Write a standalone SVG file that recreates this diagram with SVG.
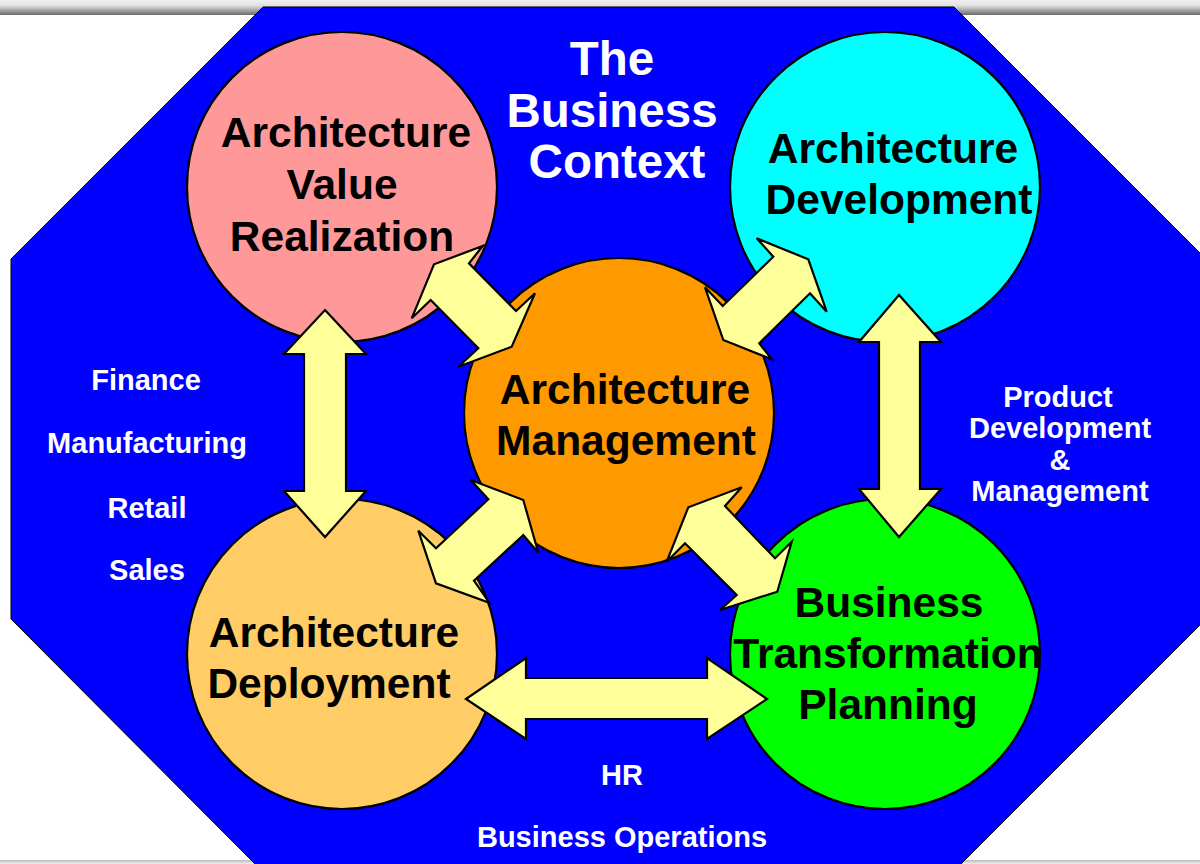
<svg xmlns="http://www.w3.org/2000/svg" width="1200" height="864" viewBox="0 0 1200 864">
<defs>
<linearGradient id="strip" x1="0" y1="0" x2="0" y2="1">
<stop offset="0" stop-color="#f0f0f0"/>
<stop offset="0.35" stop-color="#e2e2e2"/>
<stop offset="0.5" stop-color="#c8c8c8"/>
<stop offset="1" stop-color="#6a6a6a"/>
</linearGradient>
<linearGradient id="stripb" x1="0" y1="0" x2="0" y2="1">
<stop offset="0" stop-color="#bbbbbb"/>
<stop offset="1" stop-color="#eeeeee"/>
</linearGradient>
</defs>
<style>
.c{stroke:#000;stroke-width:2.2}
.lbl{font-family:"Liberation Sans",Arial,Helvetica,sans-serif;font-weight:bold;font-size:42.5px;fill:#000;text-anchor:middle}
.ttl{font-family:"Liberation Sans",Arial,Helvetica,sans-serif;font-weight:bold;font-size:47.5px;fill:#fff;text-anchor:middle}
.side{font-family:"Liberation Sans",Arial,Helvetica,sans-serif;font-weight:bold;font-size:29px;fill:#fff;text-anchor:middle}
.arr{fill:#ffff99;stroke:#000;stroke-width:2.2;stroke-linejoin:miter}
</style>
<rect x="0" y="0" width="1200" height="864" fill="#fff"/>
<rect x="0" y="0" width="1200" height="15" fill="url(#strip)"/>
<rect x="0" y="860" width="1200" height="4" fill="url(#stripb)"/>
<polygon id="context" points="263,7 954,7 1207,260 1207,618 958,867 258,867 11,619 11,259" fill="#0000ff" stroke="#000" stroke-width="1"/>
<g id="title">
<text class="ttl" x="612" y="75">The</text>
<text class="ttl" x="612" y="127">Business</text>
<text class="ttl" x="617" y="178">Context</text>
</g>
<g id="value-realization">
<circle class="c" cx="342" cy="187" r="155" fill="#ff9999"/>
<text class="lbl" x="346" y="147">Architecture</text>
<text class="lbl" x="342" y="199">Value</text>
<text class="lbl" x="342" y="251">Realization</text>
</g>
<g id="development">
<circle class="c" cx="885" cy="187" r="155" fill="#00ffff"/>
<text class="lbl" x="893" y="163">Architecture</text>
<text class="lbl" x="899" y="214">Development</text>
</g>
<g id="management">
<circle class="c" cx="619" cy="413" r="155" fill="#ff9900"/>
<text class="lbl" x="625" y="404">Architecture</text>
<text class="lbl" x="626" y="455">Management</text>
</g>
<g id="deployment">
<circle class="c" cx="342" cy="654" r="155" fill="#ffcc66"/>
<text class="lbl" x="334" y="647">Architecture</text>
<text class="lbl" x="329" y="698">Deployment</text>
</g>
<g id="transformation">
<circle class="c" cx="885" cy="654" r="155" fill="#00ff00"/>
<text class="lbl" x="889" y="617">Business</text>
<text class="lbl" x="888" y="668">Transformation</text>
<text class="lbl" x="888" y="719">Planning</text>
</g>
<g id="connectors">
<polygon class="arr" points="325,310 366,354 346,354 346,491 366,491 325,537 284,491 304,491 304,354 284,354"/>
<polygon class="arr" points="899,295 941,342 920,342 920,489 941,489 899,537 859,489 879,489 879,342 859,342"/>
<polygon class="arr" points="466,699 526,658 526,678 707,678 707,658 767,699 707,739 707,719 526,719 526,739"/>
<polygon class="arr" points="482.7,246 469,263.3 516,311 535,293.3 511.7,346.7 458.3,366.7 478.3,348.3 430.7,300 411.7,318.3 434,264.3"/>
<polygon class="arr" points="756.7,238.3 773.3,256.7 722.7,306 705,287.3 723.3,340 771.7,359.3 759.3,343.3 810,293.3 826.7,311.7 808.3,259.3"/>
<polygon class="arr" points="470.7,480 488.3,499.3 436,548.3 418.3,530.7 436,583.3 489.3,602.7 474,580.7 523.3,535 538.3,552.7 523.3,500"/>
<polygon class="arr" points="741.7,487.3 725,506 775,558.3 791.7,541.7 777.3,591.7 720,610 736.7,595 685,543.3 666.7,561.7 688.3,507.3"/>
</g>
<g id="industries">
<text class="side" x="146" y="390">Finance</text>
<text class="side" x="147" y="453">Manufacturing</text>
<text class="side" x="147" y="518">Retail</text>
<text class="side" x="147" y="580">Sales</text>
</g>
<g id="product-labels">
<text class="side" x="1058" y="407">Product</text>
<text class="side" x="1060" y="438">Development</text>
<text class="side" x="1060" y="470">&amp;</text>
<text class="side" x="1060" y="501">Management</text>
</g>
<g id="operations-labels">
<text class="side" x="622" y="785">HR</text>
<text class="side" x="622" y="847">Business Operations</text>
</g>
</svg>
